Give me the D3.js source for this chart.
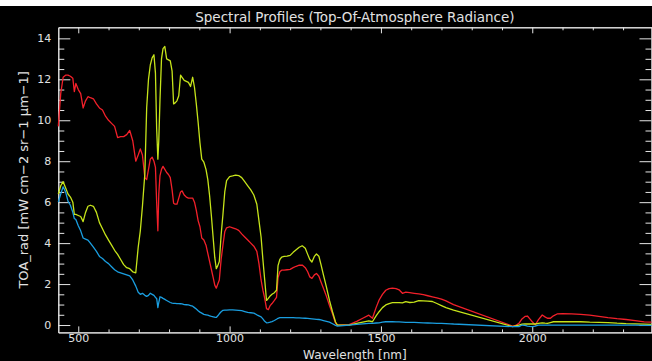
<!DOCTYPE html>
<html>
<head>
<meta charset="utf-8">
<script src="https://cdn.jsdelivr.net/npm/d3@7"></script>
<style>
  body { margin: 0; background: #000; }
  svg { display: block; }
  text { font-family: "DejaVu Sans", sans-serif; fill: #e2e2e2; }
</style>
</head>
<body>
<script>
// wavelengths (nm) shared by the three spectra
const wavelength = [434, 442, 450, 458, 466, 474, 482, 487, 492, 500, 508, 516, 524, 532, 540, 550, 560, 570, 580, 590,
    600, 610, 620, 630, 640, 650, 660, 670, 680, 690, 698, 705, 712, 720, 726, 732, 738, 744, 750, 755,
    759, 763, 766, 770, 775, 780, 786, 792, 798, 804, 810, 815, 820, 826, 832, 838, 843, 850, 857, 864,
    871, 878, 884, 890, 896, 902, 908, 915, 922, 928, 934, 940, 946, 951, 956, 961, 966, 972, 978, 984,
    990, 1000, 1010, 1020, 1030, 1040, 1050, 1060, 1070, 1080, 1090, 1097, 1104, 1110, 1116, 1122, 1128, 1134, 1140, 1148,
    1155, 1160, 1166, 1172, 1180, 1190, 1200, 1210, 1220, 1230, 1240, 1250, 1258, 1265, 1272, 1280, 1287, 1295, 1302, 1310,
    1320, 1330, 1340, 1350, 1356, 1395, 1420, 1440, 1460, 1472, 1484, 1494, 1505, 1516, 1527, 1538, 1550, 1560, 1571, 1582,
    1595, 1610, 1625, 1640, 1655, 1670, 1685, 1700, 1715, 1730, 1740, 1935, 1945, 1956, 1966, 1976, 1984, 1992, 2000, 2010,
    2020, 2033, 2042, 2050, 2060, 2070, 2082, 2100, 2130, 2160, 2190, 2220, 2250, 2280, 2310, 2340, 2370, 2394]

const redProfile = [9.7, 11.3, 12.1, 12.2, 12.2, 12.15, 12.05, 11.4, 11.8, 11.5, 11.3, 10.6, 10.95, 11.15, 11.1, 11.05, 10.8, 10.6, 10.5, 10.2,
    10.0, 9.85, 9.7, 9.15, 9.2, 9.2, 9.3, 9.5, 9.0, 8.0, 8.3, 8.6, 8.3, 7.2, 7.1, 7.6, 8.1, 8.2, 8.0, 7.7,
    6.0, 4.6, 6.4, 7.3, 7.6, 7.75, 7.6, 7.45, 7.35, 7.2, 6.6, 5.95, 5.9, 5.9, 6.2, 6.5, 6.55, 6.35, 6.25, 6.2,
    6.2, 6.2, 6.0, 5.6, 5.1, 4.8, 4.25, 4.15, 3.9, 3.5, 3.1, 2.7, 2.3, 1.95, 1.8, 2.0, 2.2, 3.2, 3.9, 4.55,
    4.75, 4.8, 4.75, 4.7, 4.62, 4.45, 4.3, 4.15, 4.0, 3.85, 3.6, 3.0, 2.2, 1.7, 1.3, 0.8, 0.75, 0.95, 1.05, 1.2,
    1.35, 2.3, 2.6, 2.68, 2.68, 2.7, 2.72, 2.8, 2.87, 2.92, 2.93, 2.8, 2.6, 2.35, 2.28, 2.45, 2.52, 2.38, 2.1, 1.8,
    1.4, 0.95, 0.55, 0.1, 0.0, 0.02, 0.18, 0.33, 0.48, 0.33, 0.85, 1.22, 1.5, 1.7, 1.78, 1.8, 1.78, 1.72, 1.55, 1.61,
    1.58, 1.55, 1.52, 1.48, 1.43, 1.38, 1.33, 1.27, 1.18, 1.07, 1.0, -0.05, -0.02, 0.08, 0.3, 0.42, 0.44, 0.3, 0.16, 0.0,
    0.25, 0.49, 0.4, 0.33, 0.33, 0.45, 0.54, 0.55, 0.54, 0.52, 0.48, 0.42, 0.36, 0.31, 0.27, 0.22, 0.15, 0.14]

const yellowProfile = [6.4, 6.8, 7.0, 6.7, 6.4, 6.25, 6.0, 5.4, 5.4, 5.35, 5.3, 5.05, 5.5, 5.8, 5.85, 5.8, 5.5, 5.0, 4.7, 4.4,
    4.15, 3.9, 3.65, 3.45, 3.2, 2.95, 2.8, 2.75, 2.6, 2.55, 3.8, 4.6, 5.8, 7.4, 10.6, 12.0, 12.7, 13.05, 13.2, 12.3,
    9.6, 8.1, 9.0, 11.0, 13.0, 13.5, 13.6, 13.0, 12.95, 12.9, 12.4, 10.8, 10.85, 10.95, 11.2, 12.2, 12.1, 11.95, 11.9, 11.85,
    11.65, 12.1, 11.6, 10.8, 9.9, 8.9, 8.1, 7.95, 7.6, 7.1, 6.3, 5.3, 4.2, 3.3, 2.75, 2.9, 3.1, 4.4, 5.4, 6.5,
    7.05, 7.25, 7.28, 7.32, 7.3, 7.2, 7.0, 6.8, 6.6, 6.35, 5.9, 5.1, 4.3, 3.2, 2.2, 1.2, 1.3, 1.42, 1.5, 1.58,
    1.7, 2.9, 3.2, 3.32, 3.35, 3.37, 3.4, 3.55, 3.68, 3.8, 3.87, 3.75, 3.45, 3.2, 3.08, 3.35, 3.47, 3.36, 2.95, 2.45,
    1.85, 1.2, 0.65, 0.15, 0.0, 0.0, 0.08, 0.14, 0.2, 0.16, 0.45, 0.65, 0.85, 0.98, 1.05, 1.09, 1.09, 1.09, 1.08, 1.14,
    1.1, 1.12, 1.19, 1.18, 1.17, 1.15, 1.05, 0.95, 0.85, 0.78, 0.73, -0.08, -0.04, 0.0, 0.04, 0.05, 0.05, 0.05, 0.05, 0.05,
    0.08, 0.11, 0.09, 0.08, 0.12, 0.16, 0.16, 0.16, 0.16, 0.16, 0.14, 0.13, 0.12, 0.09, 0.07, 0.06, 0.04, 0.03]

const blueProfile = [6.0, 6.4, 6.75, 6.5, 6.05, 5.85, 5.5, 5.2, 5.15, 4.85, 4.6, 4.25, 4.2, 4.15, 4.0, 3.8, 3.6, 3.35, 3.25, 3.1,
    3.0, 2.85, 2.7, 2.6, 2.55, 2.5, 2.45, 2.4, 2.2, 1.9, 1.6, 1.5, 1.55, 1.45, 1.4, 1.45, 1.55, 1.5, 1.45, 1.35,
    1.3, 0.85, 1.1, 1.38, 1.35, 1.3, 1.25, 1.2, 1.15, 1.1, 1.07, 1.06, 1.06, 1.05, 1.05, 1.04, 1.03, 1.0, 0.99, 0.98,
    0.95, 0.92, 0.85, 0.78, 0.7, 0.63, 0.58, 0.52, 0.5, 0.48, 0.45, 0.42, 0.4, 0.38, 0.37, 0.45, 0.55, 0.65, 0.72, 0.73,
    0.73, 0.74, 0.74, 0.73, 0.72, 0.7, 0.66, 0.62, 0.6, 0.58, 0.5, 0.45, 0.4, 0.3, 0.18, 0.11, 0.12, 0.14, 0.17, 0.22,
    0.28, 0.33, 0.36, 0.36, 0.36, 0.36, 0.36, 0.36, 0.35, 0.35, 0.34, 0.33, 0.32, 0.31, 0.3, 0.29, 0.28, 0.27, 0.25, 0.22,
    0.18, 0.14, 0.06, -0.02, -0.05, 0.0, 0.03, 0.06, 0.08, 0.08, 0.1, 0.11, 0.14, 0.16, 0.16, 0.16, 0.15, 0.15, 0.14, 0.13,
    0.13, 0.13, 0.12, 0.11, 0.1, 0.09, 0.08, 0.08, 0.07, 0.06, 0.05, -0.08, -0.08, -0.08, 0.0, -0.02, -0.05, -0.07, -0.08, -0.05,
    0.0, 0.0, 0.0, 0.0, 0.0, 0.0, 0.0, 0.0, 0.0, 0.0, 0.0, 0.0, 0.0, 0.0, 0.0, 0.0, -0.02, -0.02]

const xMajorTicks = [500, 1000, 1500, 2000]
const yMajorTicks = [0, 2, 4, 6, 8, 10, 12, 14]

const WIDTH = 652
const HEIGHT = 361
const margin = { top: 27.3, bottom: 28.6, left: 58.3, right: 0.5 }

const svg = d3.select('body').append('svg')
    .attr('width', WIDTH)
    .attr('height', HEIGHT)

svg.append('rect')
    .attr('width', WIDTH)
    .attr('height', HEIGHT)
    .attr('fill', '#000')

// thin white strip along the top edge of the screenshot
svg.append('rect')
    .attr('width', WIDTH)
    .attr('height', 6)
    .attr('fill', '#fff')

const x_scale = d3.scaleLinear()
    .domain([434, 2394])
    .range([margin.left, WIDTH - margin.right])

const y_scale = d3.scaleLinear()
    .domain([-0.36, 14.54])
    .range([HEIGHT - margin.bottom, margin.top])

const xMinorTicks = d3.range(500, 2394, 100).filter(v => !xMajorTicks.includes(v))
const yMinorTicks = d3.range(0, 14.5, 0.5).filter(v => !yMajorTicks.includes(v))

function styleAxis(g) {
    g.selectAll('path, line').attr('stroke', '#e6e6e6').attr('stroke-width', 1)
    g.selectAll('text').attr('fill', '#e2e2e2').attr('font-size', 11).attr('font-family', '"DejaVu Sans", sans-serif')
}

// bottom axis
svg.append('g')
    .attr('transform', `translate(0,${HEIGHT - margin.bottom})`)
    .call(d3.axisBottom(x_scale).tickValues(xMinorTicks).tickSize(-3).tickSizeOuter(0).tickFormat(''))
    .call(styleAxis)
svg.append('g')
    .attr('transform', `translate(0,${HEIGHT - margin.bottom})`)
    .call(d3.axisBottom(x_scale).tickValues(xMajorTicks).tickSize(-6).tickSizeOuter(0).tickPadding(2).tickFormat(d3.format('d')))
    .call(styleAxis)

// top axis
svg.append('g')
    .attr('transform', `translate(0,${margin.top})`)
    .call(d3.axisTop(x_scale).tickValues(xMinorTicks).tickSize(-3).tickSizeOuter(0).tickFormat(''))
    .call(styleAxis)
svg.append('g')
    .attr('transform', `translate(0,${margin.top})`)
    .call(d3.axisTop(x_scale).tickValues(xMajorTicks).tickSize(-6).tickSizeOuter(0).tickFormat(''))
    .call(styleAxis)

// left axis
svg.append('g')
    .attr('transform', `translate(${margin.left},0)`)
    .call(d3.axisLeft(y_scale).tickValues(yMinorTicks).tickSize(-6).tickSizeOuter(0).tickFormat(''))
    .call(styleAxis)
svg.append('g')
    .attr('transform', `translate(${margin.left},0)`)
    .call(d3.axisLeft(y_scale).tickValues(yMajorTicks).tickSize(-12).tickSizeOuter(0).tickPadding(7).tickFormat(d3.format('d')))
    .call(styleAxis)

// right axis
svg.append('g')
    .attr('transform', `translate(${WIDTH - margin.right},0)`)
    .call(d3.axisRight(y_scale).tickValues(yMinorTicks).tickSize(-6).tickSizeOuter(0).tickFormat(''))
    .call(styleAxis)
svg.append('g')
    .attr('transform', `translate(${WIDTH - margin.right},0)`)
    .call(d3.axisRight(y_scale).tickValues(yMajorTicks).tickSize(-12).tickSizeOuter(0).tickFormat(''))
    .call(styleAxis)

const line = d3.line()
    .x(d => x_scale(d[0]))
    .y(d => y_scale(d[1]))

const series = [
    { name: 'red', values: redProfile, color: '#f2202a' },
    { name: 'yellow', values: yellowProfile, color: '#c6e41a' },
    { name: 'blue', values: blueProfile, color: '#1a9ee0' }
]

svg.append('g')
    .selectAll('path')
    .data(series)
    .join('path')
        .attr('fill', 'none')
        .attr('stroke', d => d.color)
        .attr('stroke-width', 1.3)
        .attr('stroke-linejoin', 'round')
        .attr('d', d => line(d.values.map((v, i) => [wavelength[i], v])))

svg.append('text')
    .attr('x', (margin.left + WIDTH - margin.right) / 2)
    .attr('y', 22)
    .attr('text-anchor', 'middle')
    .attr('font-size', 13.5)
    .text('Spectral Profiles (Top-Of-Atmosphere Radiance)')

svg.append('text')
    .attr('x', (margin.left + WIDTH - margin.right) / 2)
    .attr('y', 359)
    .attr('text-anchor', 'middle')
    .attr('font-size', 12)
    .text('Wavelength [nm]')

svg.append('text')
    .attr('transform', `translate(28,${(margin.top + HEIGHT - margin.bottom) / 2}) rotate(-90)`)
    .attr('text-anchor', 'middle')
    .attr('font-size', 13)
    .text('TOA_rad [mW cm\u22122 sr\u22121 \u00b5m\u22121]')
</script>
</body>
</html>
